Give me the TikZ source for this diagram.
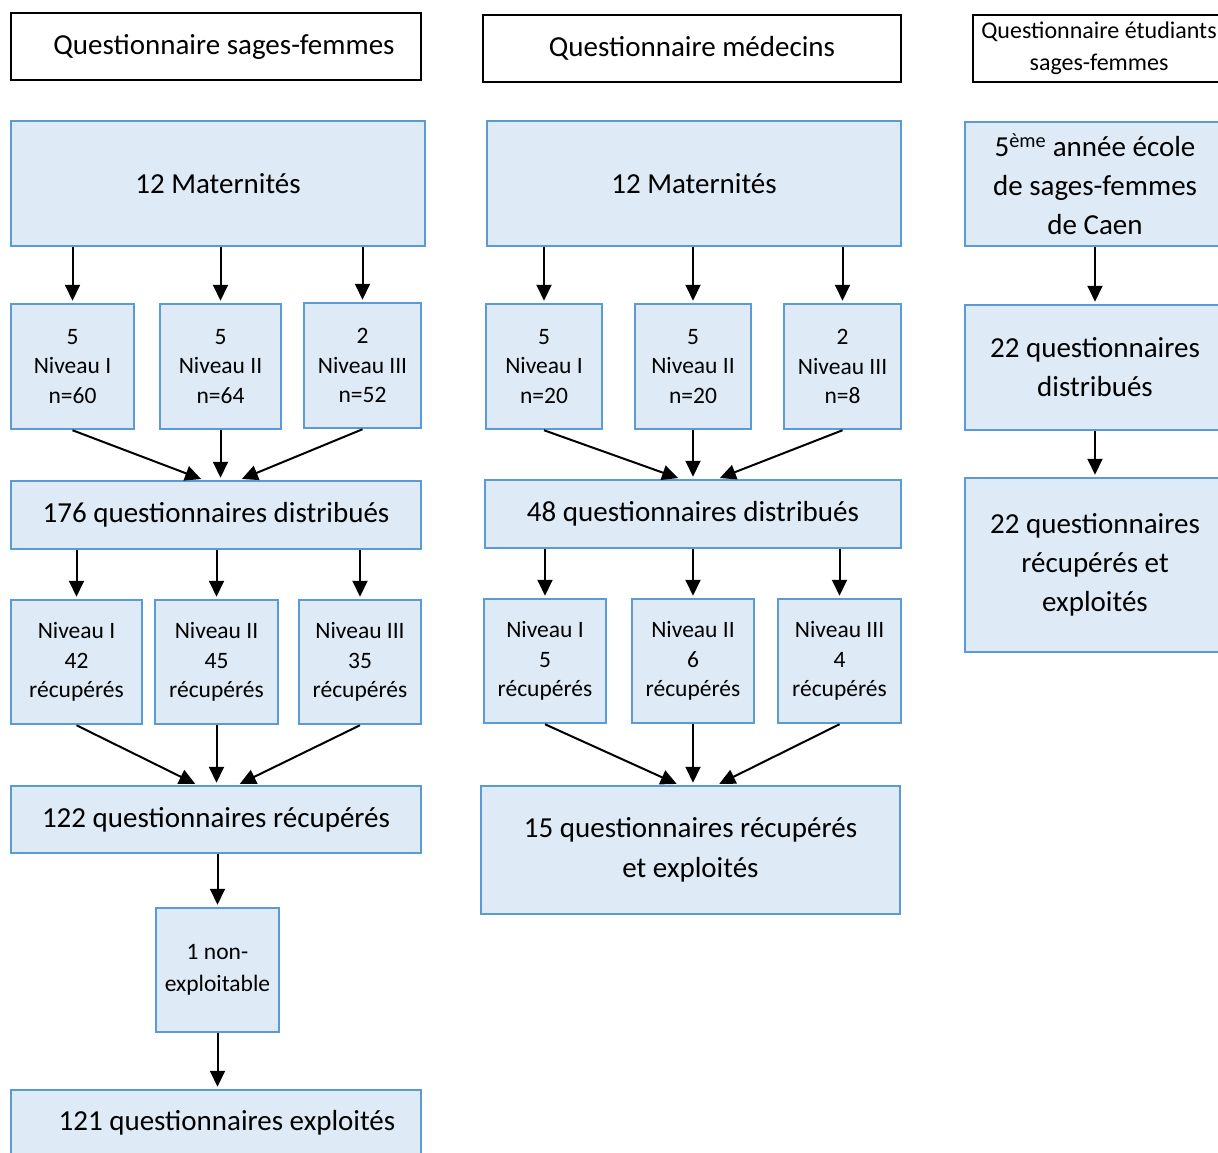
\documentclass[tikz,border=0pt]{standalone}
\usepackage{fontspec}
\setmainfont{Carlito}
\usetikzlibrary{arrows.meta,calc}
\definecolor{boxblue}{HTML}{5B9BD5}
\definecolor{boxfill}{HTML}{DEEAF6}
\begin{document}
\begin{tikzpicture}[x=1pt,y=-1pt,
  bx/.style={draw=boxblue, fill=boxfill, line width=2.5pt, inner sep=0pt, align=center, text=black},
  hd/.style={draw=black, fill=white, line width=2pt, inner sep=0pt, align=center},
  big/.style={font=\fontsize{29}{39}\selectfont},
  small/.style={font=\fontsize{23.5}{29.5}\selectfont},
  arr/.style={-{Triangle[length=16pt,width=15pt]}, line width=2pt, shorten >=2pt}]
\useasboundingbox (0,0) rectangle (1218,1153);
\fill[white] (0,0) rectangle (1218,1153);
% headers
\node[hd,font=\fontsize{29}{35}\selectfont,minimum width=410,minimum height=67] (H1) at (216,46.5) {\hspace*{16pt}Questionnaire sages-femmes};
\node[hd,font=\fontsize{29}{35}\selectfont,minimum width=418,minimum height=67] (H2) at (692,48.5) {Questionnaire médecins};
\node[hd,font=\fontsize{24}{32}\selectfont,minimum width=252,minimum height=67] (H3) at (1099,48.5) {Questionnaire étudiants\\sages-femmes};
% column 1
\node[bx,big,minimum width=414,minimum height=125] (A1) at (218,183.5) {12 Maternités};
\node[bx,small,minimum width=123,minimum height=125] (B1a) at (72.5,366.5) {5\\Niveau I\\n=60};
\node[bx,small,minimum width=121,minimum height=125] (B1b) at (220.5,366.5) {5\\Niveau II\\n=64};
\node[bx,small,minimum width=117,minimum height=125] (B1c) at (362.5,365.5) {2\\Niveau III\\n=52};
\node[bx,big,minimum width=410,minimum height=68] (C1) at (216,515) {176 questionnaires distribués};
\node[bx,small,minimum width=131,minimum height=124] (D1a) at (76.5,662) {Niveau I\\42\\récupérés};
\node[bx,small,minimum width=123,minimum height=124] (D1b) at (216.5,662) {Niveau II\\45\\récupérés};
\node[bx,small,minimum width=122,minimum height=124] (D1c) at (360,662) {Niveau III\\35\\récupérés};
\node[bx,big,minimum width=410,minimum height=67] (E1) at (216,819.5) {122 questionnaires récupérés};
\node[bx,font=\fontsize{23.5}{32}\selectfont,minimum width=123,minimum height=124] (F1) at (217.5,970) {1 non-\\exploitable};
\node[bx,big,minimum width=410,minimum height=66] (G1) at (216,1123) {\hspace*{22pt}121 questionnaires exploités};
% column 2
\node[bx,big,minimum width=414,minimum height=125] (A2) at (694,183.5) {12 Maternités};
\node[bx,small,minimum width=116,minimum height=125] (B2a) at (544,366.5) {5\\Niveau I\\n=20};
\node[bx,small,minimum width=116,minimum height=125] (B2b) at (693,366.5) {5\\Niveau II\\n=20};
\node[bx,small,minimum width=117,minimum height=125] (B2c) at (842.5,366.5) {2\\Niveau III\\n=8};
\node[bx,big,minimum width=416,minimum height=68] (C2) at (693,514) {48 questionnaires distribués};
\node[bx,small,minimum width=122,minimum height=124] (D2a) at (545,661) {Niveau I\\5\\récupérés};
\node[bx,small,minimum width=122,minimum height=124] (D2b) at (693,661) {Niveau II\\6\\récupérés};
\node[bx,small,minimum width=123,minimum height=124] (D2c) at (839.5,661) {Niveau III\\4\\récupérés};
\node[bx,font=\fontsize{29}{40}\selectfont,minimum width=419,minimum height=128] (E2) at (690.5,850) {15 questionnaires récupérés\\et exploités};
% column 3
\node[bx,big,minimum width=260,minimum height=124] (A3) at (1095,184) {5\textsuperscript{ème} année école\\de sages-femmes\\de Caen};
\node[bx,big,minimum width=260,minimum height=125] (B3) at (1095,367.5) {22 questionnaires\\distribués};
\node[bx,big,minimum width=260,minimum height=174] (C3) at (1095,565) {22 questionnaires\\récupérés et\\exploités};
% arrows column 1
\draw[arr] (A1.south -| B1a.north) -- (B1a.north);
\draw[arr] (A1.south -| B1b.north) -- (B1b.north);
\draw[arr] (A1.south -| B1c.north) -- (B1c.north);
\draw[arr] (B1a.south) -- ($(C1.north)+(-13,0)$);
\draw[arr] (B1b.south) -- (B1b.south |- C1.north);
\draw[arr] (B1c.south) -- ($(C1.north)+(24,0)$);
\draw[arr] (C1.south -| D1a.north) -- (D1a.north);
\draw[arr] (C1.south -| D1b.north) -- (D1b.north);
\draw[arr] (C1.south -| D1c.north) -- (D1c.north);
\draw[arr] (D1a.south) -- ($(E1.north)+(-19,0)$);
\draw[arr] (D1b.south) -- (D1b.south |- E1.north);
\draw[arr] (D1c.south) -- ($(E1.north)+(22,0)$);
\draw[arr] (E1.south -| F1.north) -- (F1.north);
\draw[arr] (F1.south) -- (F1.south |- G1.north);
% arrows column 2
\draw[arr] (A2.south -| B2a.north) -- (B2a.north);
\draw[arr] (A2.south -| B2b.north) -- (B2b.north);
\draw[arr] (A2.south -| B2c.north) -- (B2c.north);
\draw[arr] (B2a.south) -- ($(C2.north)+(-13,0)$);
\draw[arr] (B2b.south) -- (B2b.south |- C2.north);
\draw[arr] (B2c.south) -- ($(C2.north)+(25,0)$);
\draw[arr] (C2.south -| D2a.north) -- (D2a.north);
\draw[arr] (C2.south -| D2b.north) -- (D2b.north);
\draw[arr] (C2.south -| D2c.north) -- (D2c.north);
\draw[arr] (D2a.south) -- ($(E2.north)+(-12,0)$);
\draw[arr] (D2b.south) -- (D2b.south |- E2.north);
\draw[arr] (D2c.south) -- ($(E2.north)+(27,0)$);
% arrows column 3
\draw[arr] (A3.south) -- (B3.north);
\draw[arr] (B3.south) -- (C3.north);
\end{tikzpicture}
\end{document}
